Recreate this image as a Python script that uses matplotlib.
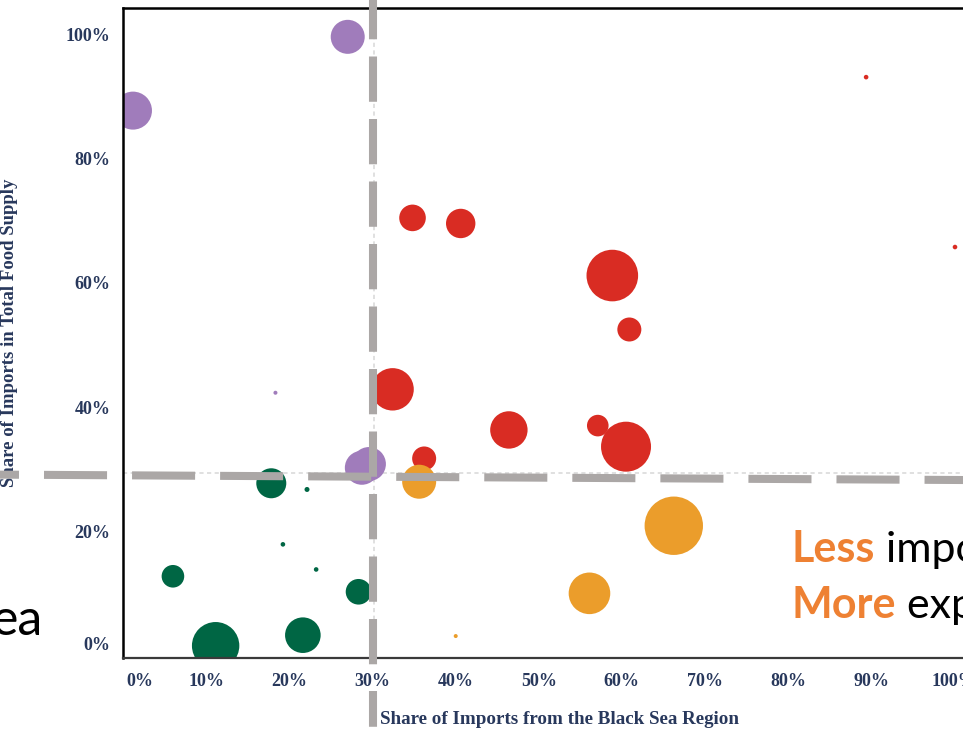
import matplotlib
matplotlib.use("Agg")
import matplotlib.pyplot as plt
import matplotlib.transforms as mtransforms
from matplotlib.ticker import FixedLocator

# ---------------- data ----------------
purple_x = [27.0, 1.15, 18.3, 28.7, 29.55]
purple_y = [99.7, 87.8, 42.3, 30.2, 30.8]
purple_size = [17, 19, 2, 17, 17]

red_x = [34.8, 40.6, 58.85, 60.9, 32.4, 46.4, 57.1, 60.5, 36.2, 89.4, 100.1]
red_y = [70.5, 69.6, 61.2, 52.5, 42.85, 36.3, 37.0, 33.6, 31.7, 93.2, 65.8]
red_size = [13.3, 14.7, 25.8, 12, 21.2, 18.7, 10.8, 25, 12, 2.3, 2.3]

orange_x = [35.6, 66.25, 56.1, 40.0]
orange_y = [27.95, 20.85, 9.95, 3.06]
orange_size = [17, 29.2, 20.8, 2]

green_x = [17.8, 22.1, 5.96, 19.2, 23.2, 28.3, 11.1, 21.6]
green_y = [27.7, 26.7, 12.7, 17.85, 13.8, 10.2, 1.5, 3.2]
green_size = [15, 2.5, 11.3, 2.3, 2.3, 12.8, 23.7, 17.8]

x_ticks = [0, 10, 20, 30, 40, 50, 60, 70, 80, 90, 100]
y_ticks = [0, 20, 40, 60, 80, 100]
x_ref = 30.2
y_ref = 29.35
quad_x = 30.0
quad_line_x = [-24.97, 105.5]
quad_line_y = [29.17, 28.19]

x_title = "Share of Imports from the Black Sea Region"
y_title = "Share of Imports in Total Food Supply"

# ---------------- styling ----------------
plt.rcParams['lines.scale_dashes'] = False
DPI = 100
fig = plt.figure(figsize=(9.63, 7.34), dpi=DPI)
W, H = 963, 734
ax_left, ax_right, ax_bottom, ax_top = 123, 987.4, 658, 8
ax = fig.add_axes([ax_left / W, (H - ax_bottom) / H,
                   (ax_right - ax_left) / W, (ax_bottom - ax_top) / H])
ax.set_xlim(-0.05, 104.0)
ax.set_ylim(-0.48, 104.35)

def to_s(sizes):
    return [(2 * r * 72 / DPI) ** 2 for r in sizes]

groups = [
    (purple_x, purple_y, purple_size, '#A07CBB'),
    (red_x, red_y, red_size, '#D92C23'),
    (orange_x, orange_y, orange_size, '#EB9D2B'),
    (green_x, green_y, green_size, '#006644'),
]
for gx, gy, gs, col in groups:
    ax.scatter(gx, gy, s=to_s(gs), color=col, edgecolors='none', zorder=2)

# thin reference lines
ax.axvline(x_ref, color='#DADADA', lw=1.2, dashes=(3, 2.5), zorder=1)
ax.axhline(y_ref, color='#DADADA', lw=1.2, dashes=(3, 2.5), zorder=1)

# thick gray quadrant overlay lines
gray = '#ABA7A6'
ax.plot([quad_x, quad_x], [107.55, -15], color=gray, lw=5.8,
        linestyle=(3.6, (32.6, 12.4)), dash_capstyle='butt',
        clip_on=False, zorder=3)
ax.plot(quad_line_x, quad_line_y, color=gray, lw=5.8,
        linestyle=(31.0, (45.4, 18.0)), dash_capstyle='butt',
        clip_on=False, zorder=3)

# spines
for s in ['left', 'top']:
    ax.spines[s].set_color('black')
    ax.spines[s].set_linewidth(1.8)
ax.spines['bottom'].set_color('#3A3A3A')
ax.spines['bottom'].set_linewidth(1.6)
ax.spines['right'].set_visible(False)

navy = '#28385C'
serif = 'Liberation Serif'
ax.xaxis.set_major_locator(FixedLocator(x_ticks))
ax.yaxis.set_major_locator(FixedLocator(y_ticks))
ax.set_xticklabels([f"{v}%" for v in x_ticks], fontfamily=serif,
                   fontweight='bold', fontsize=13, color=navy)
ax.set_yticklabels([f"{v}%" for v in y_ticks], fontfamily=serif,
                   fontweight='bold', fontsize=13, color=navy)
ax.tick_params(axis='both', length=0)
ax.tick_params(axis='x', pad=11)
ax.tick_params(axis='y', pad=9)
ax.xaxis.set_zorder(3.5)
for lab in ax.get_xticklabels():
    lab.set_bbox(dict(facecolor='white', edgecolor='none', pad=0.5))

xt = ax.xaxis.get_major_ticks()
yt = ax.yaxis.get_major_ticks()
xt[0].label1.set_transform(xt[0].label1.get_transform() +
                           mtransforms.ScaledTranslation(0.16, 0, fig.dpi_scale_trans))
yt[0].label1.set_transform(yt[0].label1.get_transform() +
                           mtransforms.ScaledTranslation(0, 0.12, fig.dpi_scale_trans))

ax.set_xlabel(x_title, fontfamily=serif, fontweight='bold', fontsize=13.7, color=navy)
ax.set_ylabel(y_title, fontfamily=serif, fontweight='bold', fontsize=13.5, color=navy)
axw = ax_right - ax_left
axh = ax_bottom - ax_top
ax.xaxis.set_label_coords((560 - ax_left) / axw, (ax_bottom - 711) / axh)
ax.yaxis.set_label_coords((18 - ax_left) / axw, 0.5)

# annotation texts
sans = 'Lato'
orange_txt = '#EE8133'
t1 = fig.text(791.7 / W, (H - 561.7) / H, "Less", fontfamily=sans, fontweight='bold',
              fontsize=31, color=orange_txt, ha='left', va='baseline')
t2 = fig.text(791.7 / W, (H - 618) / H, "More", fontfamily=sans, fontweight='bold',
              fontsize=31, color=orange_txt, ha='left', va='baseline')
fig.canvas.draw()
r = fig.canvas.get_renderer()
for t, rest in [(t1, " import"), (t2, " exposed")]:
    bb = t.get_window_extent(renderer=r)
    fig.text(bb.x1 / W, t.get_position()[1], rest, fontfamily=sans, fontsize=31,
             color='black', ha='left', va='baseline')

fig.text(43 / W, (H - 635) / H, "ea", fontfamily=sans, fontsize=36,
         color='black', ha='right', va='baseline')

fig.savefig("out.png", dpi=DPI)
